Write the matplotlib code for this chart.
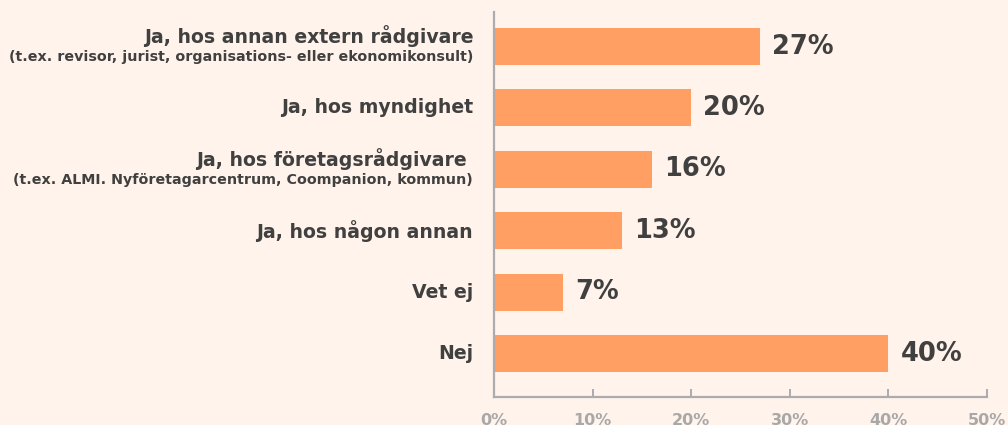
import matplotlib
matplotlib.use("Agg")
import matplotlib.pyplot as plt

categories = [
    "Ja, hos annan extern rådgivare",
    "Ja, hos myndighet",
    "Ja, hos företagsrådgivare ",
    "Ja, hos någon annan",
    "Vet ej",
    "Nej",
]
subtitles = [
    "(t.ex. revisor, jurist, organisations- eller ekonomikonsult)",
    "",
    "(t.ex. ALMI. Nyföretagarcentrum, Coompanion, kommun)",
    "",
    "",
    "",
]
values = [27, 20, 16, 13, 7, 40]
xticks = [0, 10, 20, 30, 40, 50]
xticklabels = ["0%", "10%", "20%", "30%", "40%", "50%"]

BG = "#FFF3EB"
BAR = "#FF9F63"
TXT = "#404040"
GRAY = "#ABABB0"
TICKTXT = "#A8A8A8"

plt.rcParams["font.family"] = ["DejaVu Sans"]

fig = plt.figure(figsize=(10.08, 4.25), dpi=100, facecolor=BG)
ax = fig.add_axes([494 / 1008, 28 / 425, 493 / 1008, 385 / 425])
ax.set_facecolor(BG)

ypos = list(range(len(categories)))
ax.barh(ypos, values, height=0.60, color=BAR, zorder=2)

ax.set_xlim(0, 50)
ax.set_ylim(5.708, -0.562)

for s in ["top", "right"]:
    ax.spines[s].set_visible(False)
for s in ["left", "bottom"]:
    ax.spines[s].set_color(GRAY)
    ax.spines[s].set_linewidth(1.6)
    ax.spines[s].set_zorder(3)

ax.set_yticks([])
ax.set_xticks(xticks)
ax.set_xticklabels(xticklabels, fontsize=11.5, fontweight="bold", color=TICKTXT)
ax.tick_params(axis="x", direction="in", length=5.8, width=1.4, color=GRAY, pad=11.5)

for y, cat, sub, v in zip(ypos, categories, subtitles, values):
    if sub:
        ax.annotate(cat, xy=(0, y), xycoords=("axes fraction", "data"),
                    xytext=(-15, 7.4), textcoords="offset points",
                    ha="right", va="center", fontsize=13.6, fontweight="bold", color=TXT)
        ax.annotate(sub, xy=(0, y), xycoords=("axes fraction", "data"),
                    xytext=(-15, -7.4), textcoords="offset points",
                    ha="right", va="center", fontsize=10.3, fontweight="bold", color=TXT)
    else:
        ax.annotate(cat, xy=(0, y), xycoords=("axes fraction", "data"),
                    xytext=(-15, 0), textcoords="offset points",
                    ha="right", va="center", fontsize=13.6, fontweight="bold", color=TXT)
    ax.annotate(f"{v}%", xy=(v, y), xycoords="data",
                xytext=(8.6, 0), textcoords="offset points",
                ha="left", va="center", fontsize=18.5, fontweight="bold", color=TXT)

fig.savefig("out.png", dpi=100, facecolor=BG)
